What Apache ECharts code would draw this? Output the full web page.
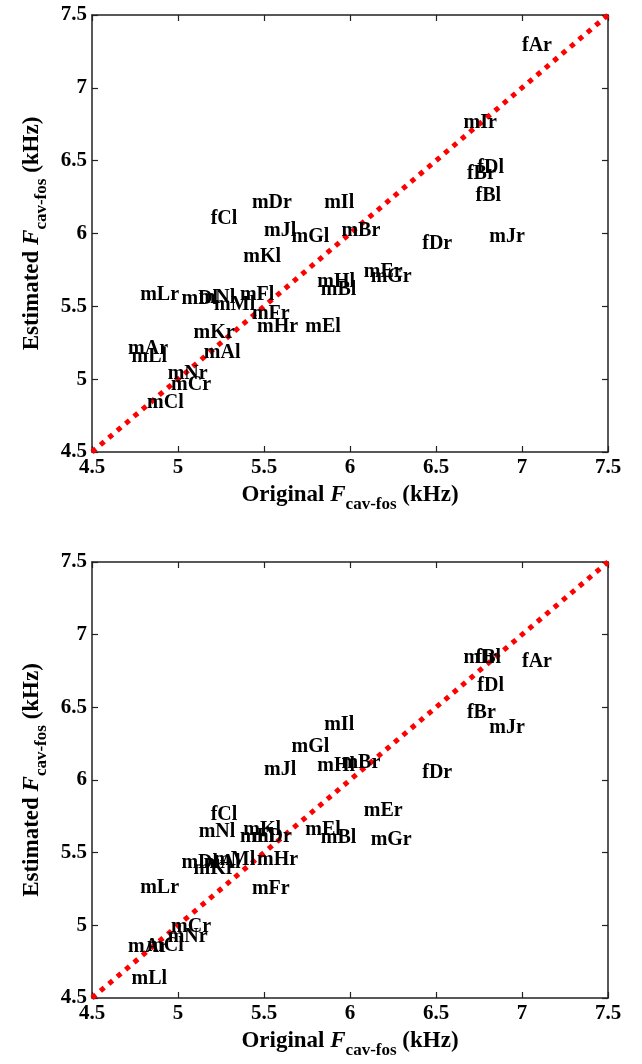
<!DOCTYPE html>
<html>
<head>
<meta charset="utf-8">
<script src="https://cdn.jsdelivr.net/npm/echarts@6/dist/echarts.min.js"></script>
<style>
  html, body { margin: 0; padding: 0; background: #fff; }
  #chart { width: 642px; height: 1064px; }
</style>
</head>
<body>
<div id="chart"></div>
<script>
// speaker / vowel labels
const labels = ['fAr','fBl','fBr','fCl','fDl','fDr','mAl','mAr','mBl','mBr','mCl','mCr','mDl','mDr','mEl','mEr',
                'mFl','mFr','mGl','mGr','mHl','mHr','mIl','mIr','mJl','mJr','mKl','mKr','mLl','mLr','mMl','mNl','mNr'];

// original F_cav-fos (kHz), shared by both panels
const original = [7.00, 6.73, 6.68, 5.19, 6.74, 6.42, 5.15, 4.71, 5.83, 5.95, 4.82, 4.96, 5.02, 5.43, 5.74, 6.08,
                  5.36, 5.43, 5.66, 6.12, 5.81, 5.46, 5.85, 6.66, 5.50, 6.81, 5.38, 5.09, 4.73, 4.78, 5.21, 5.12, 4.94];

// estimated F_cav-fos (kHz), top panel
const estimatedTop = [7.29, 6.26, 6.41, 6.10, 6.45, 5.93, 5.18, 5.21, 5.61, 6.02, 4.84, 4.96, 5.55, 6.21, 5.36, 5.74,
                      5.58, 5.45, 5.98, 5.70, 5.67, 5.36, 6.21, 6.76, 6.02, 5.98, 5.84, 5.32, 5.15, 5.58, 5.51, 5.56, 5.04];

// estimated F_cav-fos (kHz), bottom panel
const estimatedBottom = [6.81, 6.84, 6.46, 5.76, 6.65, 6.05, 5.43, 4.85, 5.60, 6.12, 4.86, 4.99, 5.43, 5.61, 5.66, 5.79,
                         5.61, 5.25, 6.23, 5.59, 6.10, 5.45, 6.38, 6.84, 6.07, 6.36, 5.66, 5.39, 4.63, 5.26, 5.45, 5.64, 4.92];

// y = x reference line
const diagonal = [[4.5, 4.5], [7.5, 7.5]];
const axisMin = 4.5, axisMax = 7.5, step = 0.5;

const FONT = '"Liberation Serif", "Times New Roman", serif';

// 轴标题（带斜体 F 和下标）
function axisTitle(prefix) {
    return '{a|' + prefix + ' }{f|F}{s|cav-fos}{a| (kHz)}';
}
const titleRich = {
    a: { fontFamily: FONT, fontWeight: 'bold', fontSize: 23, color: '#000', verticalAlign: 'top', lineHeight: 25 },
    f: { fontFamily: FONT, fontWeight: 'bold', fontStyle: 'italic', fontSize: 23, color: '#000', verticalAlign: 'top', lineHeight: 25 },
    s: { fontFamily: FONT, fontWeight: 'bold', fontSize: 17, color: '#000', verticalAlign: 'top', lineHeight: 19, padding: [12, 0, 0, 0] }
};

function baseAxis(extra) {
    return Object.assign({
        type: 'value',
        min: axisMin,
        max: axisMax,
        interval: step,
        axisLine: { show: true, onZero: false, lineStyle: { color: '#222', width: 1.5 } },
        axisTick: { show: true, inside: true, length: 6, lineStyle: { color: '#222', width: 1.2 } },
        splitLine: { show: false },
        axisLabel: { show: true, color: '#000', fontFamily: FONT, fontWeight: 'bold', fontSize: 21, margin: 5 }
    }, extra);
}

const grids = [
    { left: 92, top: 15, width: 516, height: 437 },
    { left: 92, top: 562, width: 516, height: 436 }
];

const xAxes = [], yAxes = [], series = [];
[estimatedTop, estimatedBottom].forEach((est, g) => {
    const xi = xAxes.length, yi = yAxes.length;
    xAxes.push(baseAxis({
        gridIndex: g, position: 'bottom',
        name: axisTitle('Original'), nameLocation: 'middle', nameGap: 32,
        nameTextStyle: { rich: titleRich }
    }));
    xAxes.push(baseAxis({ gridIndex: g, position: 'top', axisLabel: { show: false } }));
    yAxes.push(baseAxis({
        gridIndex: g, position: 'left',
        name: axisTitle('Estimated'), nameLocation: 'middle', nameGap: 46, nameRotate: 90,
        nameTextStyle: { rich: titleRich }
    }));
    yAxes.push(baseAxis({ gridIndex: g, position: 'right', axisLabel: { show: false } }));

    series.push({
        type: 'line',
        xAxisIndex: xi, yAxisIndex: yi,
        data: diagonal,
        symbol: 'none',
        silent: true,
        z: 1,
        lineStyle: { color: '#ff0000', width: 5, type: [5, 6], cap: 'butt' }
    });
    series.push({
        type: 'scatter',
        xAxisIndex: xi, yAxisIndex: yi,
        symbolSize: 0,
        z: 3,
        data: labels.map((name, i) => ({ name: name, value: [original[i], est[i]] })),
        itemStyle: { color: '#000', opacity: 1 },
        label: {
            show: true,
            position: 'right',
            distance: 0,
            formatter: p => p.name,
            color: '#000',
            opacity: 1,
            fontFamily: FONT,
            fontWeight: 'bold',
            fontSize: 20
        }
    });
});

const chart = echarts.init(document.getElementById('chart'));
chart.setOption({
    backgroundColor: '#fff',
    animation: false,
    grid: grids,
    xAxis: xAxes,
    yAxis: yAxes,
    series: series
});
</script>
</body>
</html>
